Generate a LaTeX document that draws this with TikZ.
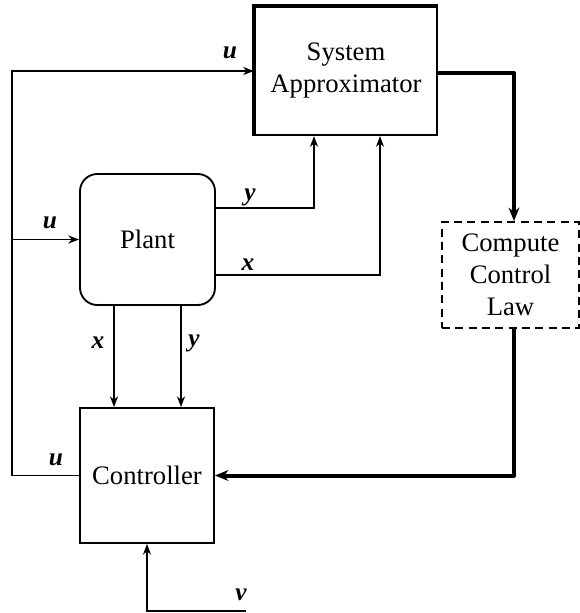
\documentclass[tikz,border=0pt]{standalone}
\usepackage{fontspec}
\setmainfont{Liberation Serif}
\usetikzlibrary{arrows.meta}
\begin{document}
\begin{tikzpicture}[x=0.75pt,y=-0.75pt,
  box/.style={draw,line width=1.4pt,inner sep=0pt,align=center,font=\fontsize{20}{24}\selectfont},
  conn/.style={line width=1.3pt,-{Stealth[length=8pt,width=6pt,inset=2.5pt]}},
  thickconn/.style={line width=3pt,line join=round,-{Stealth[length=10pt,width=8pt,inset=3pt]}},
  lbl/.style={font=\fontsize{19}{22}\selectfont\bfseries\itshape,inner sep=0pt}]
\useasboundingbox (0,0) rectangle (580,613);
\node[box,line width=1.7pt,minimum width=136.5pt,minimum height=96pt] (sa) at (346,71) {System\\Approximator};
\draw[line width=2.8pt] (sa.south west) -- (sa.north west) -- (sa.north east);
\node[box,rounded corners=13pt,minimum width=101.25pt,minimum height=98.25pt] (plant) at (147.5,239.5) {Plant};
\node[box,dashed,dash pattern=on 6pt off 4pt,minimum width=102.75pt,minimum height=79.5pt] (cc) at (510.5,275) {Compute\\Control\\Law};
\node[box,minimum width=100.5pt,minimum height=101.25pt] (ctrl) at (147,475.5) {Controller};
% left feedback u
\coordinate (j) at (12,239.5);
\draw[conn] (ctrl.west) -- (ctrl.west -| j) |- (sa.west);
\draw[conn] (j) -- (plant.west);
% plant outputs to approximator
\coordinate (py) at (314,208);
\coordinate (px) at (380,275);
\draw[conn] (plant.east |- py) -| (sa.south -| py);
\draw[conn] (plant.east |- px) -| (sa.south -| px);
% plant to controller
\coordinate (dx) at (114,0);
\coordinate (dy) at (181,0);
\draw[conn] (plant.south -| dx) -- (ctrl.north -| dx);
\draw[conn] (plant.south -| dy) -- (ctrl.north -| dy);
% thick path
\coordinate (xc) at (514,73);
\draw[thickconn] (sa.east |- xc) -| (cc.north -| xc);
\draw[thickconn] (cc.south -| xc) |- (ctrl.east);
% v input
\coordinate (vend) at (246,611);
\draw[conn] (vend) -| (ctrl.south);
% labels
\node[lbl] (lu1) at (230,53) {u};
\node[lbl] (lu2) at (50,223) {u};
\node[lbl] (ly1) at (250,197) {y};
\node[lbl] (lx1) at (248,265) {x};
\node[lbl] (lx2) at (98,343) {x};
\node[lbl] (ly2) at (194,343) {y};
\node[lbl] (lu3) at (56,460) {u};
\node[lbl] (lv) at (241,595) {v};
\end{tikzpicture}
\end{document}
